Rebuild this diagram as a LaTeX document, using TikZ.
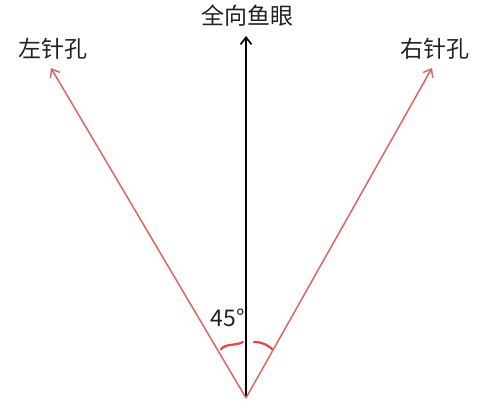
\documentclass[tikz,border=0pt]{standalone}
\usepackage{fontspec}
\newfontfamily\cjk{Noto Sans CJK SC}
\usetikzlibrary{arrows.meta}
\definecolor{rayred}{HTML}{E06464}
\definecolor{markred}{HTML}{F04040}
\definecolor{txt}{HTML}{222222}
\begin{document}
\begin{tikzpicture}[x=1pt,y=-1pt,
  lbl/.style={font=\cjk\fontsize{23}{23}\selectfont, text=txt, inner sep=0pt},
  ray/.style={rayred, line width=1.5pt, -{Straight Barb[length=7pt,width=11pt]}},
  axis/.style={black, line width=1.7pt, -{Straight Barb[length=7pt,width=11pt]}},
  tick/.style={markred, line width=2.2pt, line cap=round}]
\fill[white] (0,0) rectangle (493,416);
\useasboundingbox (0,0) rectangle (493,416);
\coordinate (o) at (246,398);
\coordinate (top) at (246,36);
\coordinate (l) at (51,68);
\coordinate (r) at (432,68);
\draw[axis] (o) -- (top);
\draw[ray] (o) -- (l);
\draw[ray] (o) -- (r);
\node[lbl] (t1) at (247,16) {全向鱼眼};
\node[lbl] (t2) at (53,49) {左针孔};
\node[lbl] (t3) at (435,49) {右针孔};
\node[lbl] (deg) at (228,318) {45°};
\draw[tick] (221,349) .. controls (227,343) and (236,346) .. (243,342);
\draw[tick] (254,342) .. controls (262,342) and (268,345) .. (272,349);
\end{tikzpicture}
\end{document}
